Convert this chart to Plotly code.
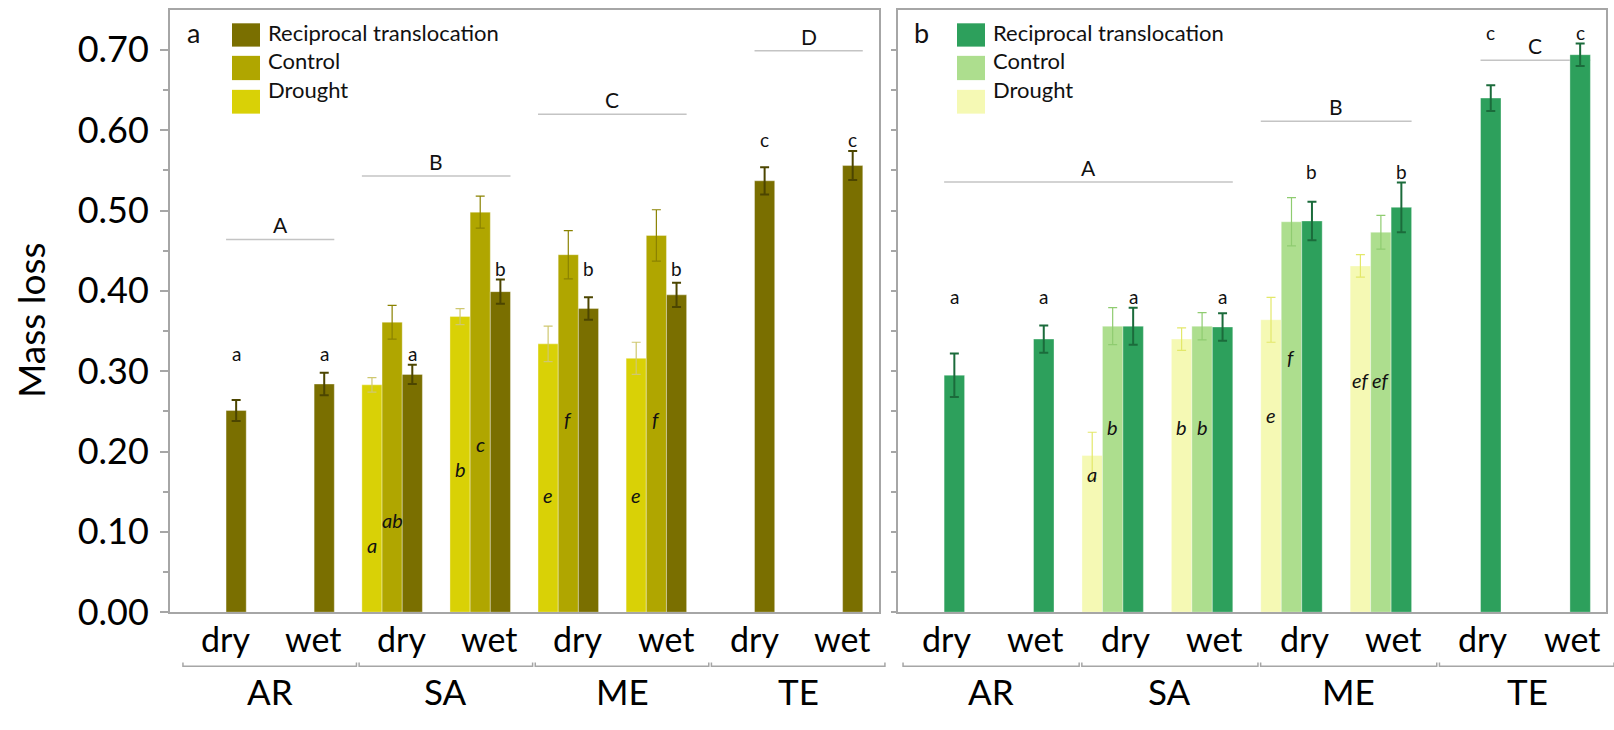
import plotly.graph_objects as go

# ---------------- data ----------------
categories = ["dry", "wet", "dry", "wet", "dry", "wet", "dry", "wet"]
sites = ["AR", "SA", "ME", "TE"]
series_names = ["Reciprocal translocation", "Control", "Drought"]

# panel a (mass loss, mean and error)
a_drought = [None, None, 0.283, 0.368, 0.334, 0.316, None, None]
a_drought_err = [None, None, 0.009, 0.010, 0.022, 0.020, None, None]
a_control = [None, None, 0.361, 0.498, 0.445, 0.469, None, None]
a_control_err = [None, None, 0.021, 0.020, 0.030, 0.032, None, None]
a_rt = [0.251, 0.284, 0.296, 0.399, 0.378, 0.395, 0.537, 0.556]
a_rt_err = [0.013, 0.014, 0.012, 0.015, 0.014, 0.015, 0.017, 0.018]

# panel b
b_drought = [None, None, 0.195, 0.340, 0.364, 0.431, None, None]
b_drought_err = [None, None, 0.029, 0.014, 0.028, 0.014, None, None]
b_control = [None, None, 0.356, 0.356, 0.486, 0.473, None, None]
b_control_err = [None, None, 0.023, 0.017, 0.030, 0.021, None, None]
b_rt = [0.295, 0.340, 0.356, 0.355, 0.487, 0.504, 0.640, 0.694]
b_rt_err = [0.027, 0.017, 0.023, 0.017, 0.024, 0.031, 0.016, 0.014]

# significance letters
a_sig_drought = ["", "", "a", "b", "e", "e", "", ""]
a_sig_control = ["", "", "ab", "c", "f", "f", "", ""]
a_sig_rt = ["a", "a", "a", "b", "b", "b", "c", "c"]
b_sig_drought = ["", "", "a", "b", "e", "ef", "", ""]
b_sig_control = ["", "", "b", "b", "f", "ef", "", ""]
b_sig_rt = ["a", "a", "a", "a", "b", "b", "c", "c"]

# site-level letters and the categories they span
a_site_letters = ["A", "B", "C", "D"]
a_site_spans = [(0, 1), (2, 3), (4, 5), (6, 7)]
b_site_letters = ["A", "B", "C"]
b_site_spans = [(0, 3), (4, 5), (6, 7)]

# ---------------- layout constants ----------------
W, H = 1614, 730
FONT = "Lato"
BW = 0.229                       # bar width (category units)
SLOT = {"Drought": -BW, "Control": 0.0, "Reciprocal translocation": BW}
Y_DOM = ((730 - 630.3) / H, (730 - 10) / H)
Y_RNG = (0, 0.75)
FRAME = "#A6A6A6"

PANELS = {
    "a": dict(xa="x", ya="y", dom=(170 / W, 878.5 / W), rng=(-0.522, 7.522),
              colors={"Drought": "#D9D106", "Control": "#B0A600",
                      "Reciprocal translocation": "#7A6F00"},
              errc={"Drought": "#CFC870", "Control": "#8A8200",
                    "Reciprocal translocation": "#4C4500"},
              label_off=0.11, legend_x=232, letter_x=193, letter="a",
              site_line_y=[0.464, 0.543, 0.620, 0.699],
              inbar_y={"Drought": [None, None, 0.083, 0.178, 0.146, 0.146, None, None],
                       "Control": [None, None, 0.115, 0.209, 0.240, 0.240, None, None]}),
    "b": dict(xa="x2", ya="y2", dom=(898.3 / W, 1606 / W), rng=(-0.398, 7.518),
              colors={"Drought": "#F5F9B4", "Control": "#ADDE8E",
                      "Reciprocal translocation": "#2DA05C"},
              errc={"Drought": "#E3E86A", "Control": "#8FCC70",
                    "Reciprocal translocation": "#1B6B3B"},
              label_off=0.14, legend_x=957, letter_x=921, letter="b",
              site_line_y=[0.5355, 0.611, 0.687],
              inbar_y={"Drought": [None, None, 0.172, 0.231, 0.246, 0.289, None, None],
                       "Control": [None, None, 0.231, 0.231, 0.318, 0.289, None, None]}),
}

DATA = {
    "a": {"Drought": (a_drought, a_drought_err, a_sig_drought),
          "Control": (a_control, a_control_err, a_sig_control),
          "Reciprocal translocation": (a_rt, a_rt_err, a_sig_rt),
          "sites": (a_site_letters, a_site_spans)},
    "b": {"Drought": (b_drought, b_drought_err, b_sig_drought),
          "Control": (b_control, b_control_err, b_sig_control),
          "Reciprocal translocation": (b_rt, b_rt_err, b_sig_rt),
          "sites": (b_site_letters, b_site_spans)},
}


def paper_x(p, v):
    d0, d1 = p["dom"]
    r0, r1 = p["rng"]
    return d0 + (v - r0) / (r1 - r0) * (d1 - d0)


def px_y(py):
    return 1 - py / H


def text(x, y, s, size, xref="paper", yref="paper", xanchor="center", **kw):
    font = dict(family=FONT, size=size, color=kw.pop("color", "#111"))
    if "style" in kw:
        font["style"] = kw.pop("style")
    return dict(x=x, y=y, xref=xref, yref=yref, text=s, showarrow=False,
                xanchor=xanchor, yanchor="middle", font=font, **kw)


fig = go.Figure()
annotations = []
shapes = []

for key, p in PANELS.items():
    d = DATA[key]
    xs = list(range(len(categories)))

    # bars with error bars
    for name in ["Drought", "Control", "Reciprocal translocation"]:
        vals, errs, _ = d[name]
        thick = 2 if name == "Reciprocal translocation" else 1.2
        fig.add_trace(go.Bar(
            x=[i + SLOT[name] for i in xs], y=vals, width=BW,
            marker=dict(color=p["colors"][name],
                        line=dict(width=1, color="rgba(255,255,255,0.35)")),
            error_y=dict(type="data", array=errs, color=p["errc"][name],
                         thickness=thick, width=4.5),
            name=name, xaxis=p["xa"], yaxis=p["ya"], showlegend=False,
        ))

    # letters above the reciprocal-translocation bars (same letter -> same height)
    vals, errs, sig = d["Reciprocal translocation"]
    tops = {}
    for v, e, s in zip(vals, errs, sig):
        tops[s] = max(tops.get(s, 0), v + e)
    for i, s in enumerate(sig):
        annotations.append(text(i + SLOT["Reciprocal translocation"], tops[s] + 0.014, s, 19,
                                xref=p["xa"], yref=p["ya"]))

    # italic letters inside drought / control bars
    for name in ["Drought", "Control"]:
        _, _, sig = d[name]
        for i, s in enumerate(sig):
            if s:
                annotations.append(text(i + SLOT[name], p["inbar_y"][name][i], s, 20,
                                        xref=p["xa"], yref=p["ya"], style="italic"))

    # site letters with horizontal lines over the bars they refer to
    letters, spans = d["sites"]
    for (c0, c1), letter, ly in zip(spans, letters, p["site_line_y"]):
        lefts, rights = [], []
        for c in range(c0, c1 + 1):
            for name in ["Drought", "Control", "Reciprocal translocation"]:
                if DATA[key][name][0][c] is not None:
                    lefts.append(c + SLOT[name] - BW / 2)
                    rights.append(c + SLOT[name] + BW / 2)
        x0, x1 = min(lefts), max(rights)
        shapes.append(dict(type="line", xref=p["xa"], yref=p["ya"], x0=x0, x1=x1,
                           y0=ly, y1=ly, layer="below",
                           line=dict(color="#C4C4C4", width=1.5)))
        annotations.append(text((x0 + x1) / 2, ly + 0.018, letter, 21,
                                xref=p["xa"], yref=p["ya"]))

    # category labels, site brackets and site names below the axis
    off = p["label_off"]
    for i, c in enumerate(categories):
        annotations.append(text(paper_x(p, i + off), px_y(657), c, 34, color="#000"))
    for g, s in enumerate(sites):
        cx = 2 * g + 0.5 + off
        bx0, bx1 = paper_x(p, cx - 0.985), paper_x(p, cx + 0.985)
        bx1 = min(bx1, 1.0)
        yb, yt = px_y(686), px_y(682)
        shapes.append(dict(type="path", xref="paper", yref="paper",
                           path=f"M{bx0},{yt} L{bx0},{yb} L{bx1},{yb} L{bx1},{yt}",
                           line=dict(color="#A6A6A6", width=1.5)))
        annotations.append(text(paper_x(p, cx), px_y(711), s, 35, color="#000"))

    # legend drawn as coloured squares with labels
    sq_rows = [(24, 48), (57.5, 82.5), (92.5, 117)]
    txt_rows = [33.3, 62.3, 91.7]
    lx = p["legend_x"]
    for name, (r0, r1), ty in zip(series_names, sq_rows, txt_rows):
        shapes.append(dict(type="rect", xref="paper", yref="paper",
                           x0=lx / W, x1=(lx + 28) / W, y0=px_y(r1), y1=px_y(r0),
                           fillcolor=p["colors"][name], line=dict(width=0)))
        annotations.append(text((lx + 34) / W, px_y(ty), name, 22, xanchor="left"))
    annotations.append(text(p["letter_x"] / W, px_y(33), p["letter"], 27))

# y-axis title
annotations.append(text(31 / W, px_y(330.5), "Mass loss", 37, color="#000", textangle=-90))

major = [round(0.1 * k, 2) for k in range(8)]
minor = [round(0.05 + 0.1 * k, 2) for k in range(7)]
all_ticks = [round(0.05 * k, 2) for k in range(15)]

common_x = dict(showticklabels=False, ticks="", showgrid=False, zeroline=False,
                showline=True, mirror=True, linecolor=FRAME, linewidth=2)

fig.update_layout(
    width=W, height=H, margin=dict(l=0, r=0, t=0, b=0),
    paper_bgcolor="white", plot_bgcolor="white", barmode="overlay",
    showlegend=False,
    xaxis=dict(domain=list(PANELS["a"]["dom"]), range=list(PANELS["a"]["rng"]),
               anchor="y", **common_x),
    yaxis=dict(domain=list(Y_DOM), range=list(Y_RNG), anchor="x",
               tickvals=major, tickformat=".2f", ticks="outside", ticklen=8,
               tickwidth=1.5, tickcolor=FRAME, ticklabelstandoff=4,
               minor=dict(tickvals=minor, ticks="outside", ticklen=5,
                          tickwidth=1.5, tickcolor=FRAME),
               tickfont=dict(family=FONT, size=36, color="#000"),
               showgrid=False, zeroline=False, showline=True, mirror=True,
               linecolor=FRAME, linewidth=2),
    xaxis2=dict(domain=list(PANELS["b"]["dom"]), range=list(PANELS["b"]["rng"]),
                anchor="y2", **common_x),
    yaxis2=dict(domain=list(Y_DOM), range=list(Y_RNG), anchor="x2",
                tickvals=all_ticks, showticklabels=False, ticks="outside", ticklen=5,
                tickwidth=1.5, tickcolor=FRAME, showgrid=False, zeroline=False,
                showline=True, mirror=True, linecolor=FRAME, linewidth=2),
    annotations=annotations,
    shapes=shapes,
)

fig.write_html("out.html")
